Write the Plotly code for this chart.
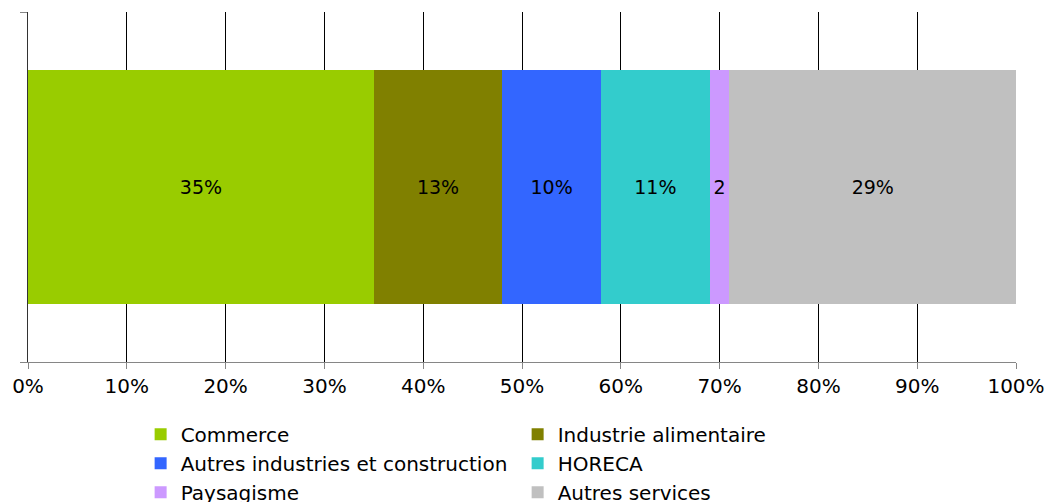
import plotly.graph_objects as go

categories = [""]
series_names = ["Commerce", "Industrie alimentaire", "Autres industries et construction",
                "HORECA", "Paysagisme", "Autres services"]
series_values = [35, 13, 10, 11, 2, 29]
series_labels = ["35%", "13%", "10%", "11%", "2", "29%"]
series_colors = ["#99CC00", "#808000", "#3366FF", "#33CCCC", "#CC99FF", "#C0C0C0"]
tick_vals = [0, 10, 20, 30, 40, 50, 60, 70, 80, 90, 100]
tick_text = ["0%", "10%", "20%", "30%", "40%", "50%", "60%", "70%", "80%", "90%", "100%"]

FONT = "DejaVu Sans, Verdana, sans-serif"

fig = go.Figure()
for name, val, lab, col in zip(series_names, series_values, series_labels, series_colors):
    fig.add_trace(go.Bar(
        x=[val], y=[0], name=name, orientation="h",
        marker=dict(color=col, line=dict(width=0)),
        width=0.666,
        text=[lab], textposition="inside", insidetextanchor="middle",
        textangle=0, constraintext="none",
        textfont=dict(family=FONT, size=19, color="#000000"),
        hoverinfo="name+x",
    ))

fig.update_layout(
    barmode="stack",
    width=1049, height=502,
    margin=dict(l=28, r=33, t=12, b=140, pad=0, autoexpand=False),
    paper_bgcolor="white", plot_bgcolor="white",
    font=dict(family=FONT, size=20, color="#000000"),
    showlegend=True,
    legend=dict(
        orientation="h",
        x=0.114, xanchor="left",
        y=-0.151, yanchor="top",
        entrywidth=332, entrywidthmode="pixels",
        font=dict(family=FONT, size=20, color="#000000"),
        bgcolor="rgba(0,0,0,0)",
        traceorder="normal",
        itemclick=False, itemdoubleclick=False,
    ),
    xaxis=dict(
        range=[0, 100],
        tickvals=tick_vals, ticktext=tick_text,
        showgrid=True, gridcolor="#000000", gridwidth=1,
        showline=True, linecolor="#868686", linewidth=1,
        ticks="outside", ticklen=6, tickcolor="#868686",
        zeroline=False, fixedrange=True,
        tickfont=dict(family=FONT, size=20),
    ),
    yaxis=dict(
        range=[-0.5, 0.5],
        tickvals=[-0.5, 0.5], ticktext=["", ""],
        showgrid=False, showline=True, linecolor="#333333", linewidth=1,
        ticks="outside", ticklen=7, tickcolor="#868686",
        zeroline=False, fixedrange=True,
    ),
)

fig.write_html("out.html")
